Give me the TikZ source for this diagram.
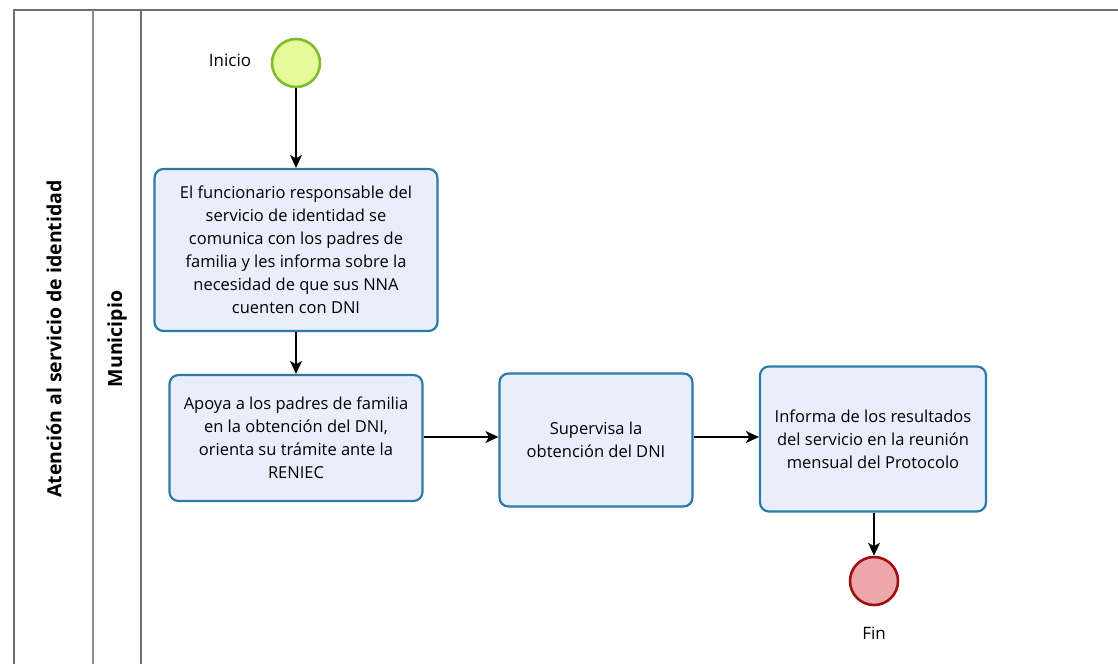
\documentclass[tikz,border=0pt]{standalone}
\usepackage{fontspec}
\setmainfont{Open Sans}
\usepackage{tikz}
\usetikzlibrary{backgrounds, calc, arrows.meta}
\tikzset{>={Stealth[length=13pt, width=12pt, inset=3.5pt]}}

\definecolor{taskfill}{HTML}{EAEEFB}
\definecolor{taskline}{HTML}{2A7BA8}
\definecolor{startfill}{HTML}{E6FA9C}
\definecolor{startline}{HTML}{7DBE2E}
\definecolor{endfill}{HTML}{EDA6A9}
\definecolor{endline}{HTML}{A10E12}
\definecolor{poolline}{HTML}{6E6E6E}

\begin{document}
\begin{tikzpicture}[x=1pt, y=-1pt, line join = round,
    task/.style={draw=taskline, fill=taskfill, line width=2.2pt, rounded corners=9pt,
        align=center, inner sep=0pt, font=\fontsize{16.5}{23}\selectfont},
    event/.style={circle, line width=2.6pt, minimum size=48pt, inner sep=0pt},
    flow/.style={->, line width=1.3pt},
    lbl/.style={font=\fontsize{17}{19}\selectfont}]
    \useasboundingbox (0,0) rectangle (1118,664);
    % pool and lane
    \draw[poolline, line width=1.6pt] (14,664) -- (14,10) -- (1118,10);
    \draw[poolline!80, line width=1.2pt] (93,10) -- (93,664);
    \draw[poolline, line width=1.2pt] (141,10) -- (141,664);
    \node[rotate=90, font=\fontsize{19.5}{22}\selectfont\bfseries] (pool) at (54,339) {Atención al servicio de identidad};
    \node[rotate=90, font=\fontsize{19.5}{22}\selectfont\bfseries] (lane) at (117,339) {Municipio};
    % events
    \node[event, draw=startline, fill=startfill] (inicio) at (296,63) {};
    \node[lbl] (inicioLbl) at (230,60) {Inicio};
    \node[event, draw=endline, fill=endfill] (fin) at (874,581) {};
    \node[lbl] (finLbl) at (874,633) {Fin};
    % tasks
    \node[task, minimum width=283pt, minimum height=162pt] (comunica) at (296,250)
        {El funcionario responsable del\\ servicio de identidad se\\ comunica con los padres de\\
         familia y les informa sobre la\\ necesidad de que sus NNA\\ cuenten con DNI};
    \node[task, minimum width=253pt, minimum height=126pt] (apoya) at (296,438)
        {Apoya a los padres de familia\\ en la obtención del DNI,\\ orienta su trámite ante la\\ RENIEC};
    \node[task, minimum width=193pt, minimum height=133pt] (supervisa) at (596,440)
        {Supervisa la\\ obtención del DNI};
    \node[task, minimum width=226pt, minimum height=145pt] (informa) at (873,439)
        {Informa de los resultados\\ del servicio en la reunión\\ mensual del Protocolo};
    % flows
    \draw[flow] (inicio) -- (comunica);
    \draw[flow] (comunica) -- (apoya);
    \draw[flow] (apoya.east |- 0,437) -- (supervisa.west |- 0,437);
    \draw[flow] (supervisa.east |- 0,437) -- (informa.west |- 0,437);
    \draw[flow] (informa.south -| fin) -- (fin);
\end{tikzpicture}
\end{document}
